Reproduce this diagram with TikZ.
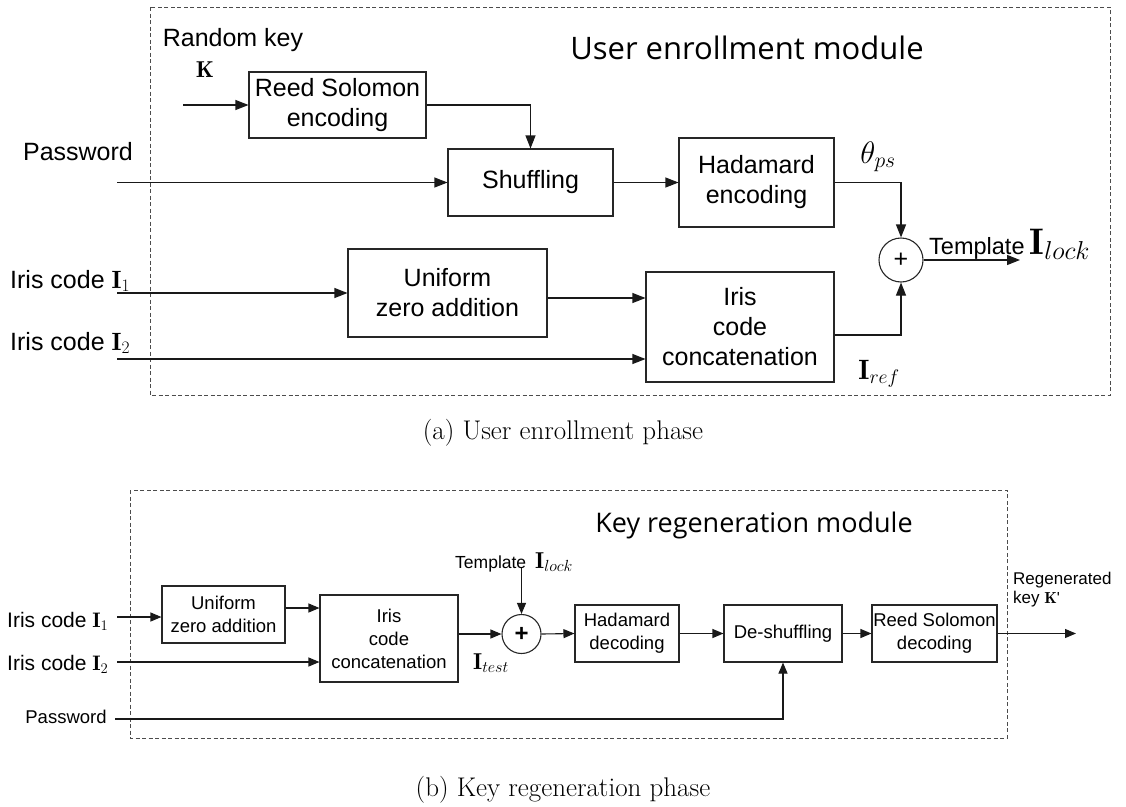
\RequirePackage{fix-cm}
\documentclass[tikz,border=0pt]{standalone}
\usepackage{amsmath,amssymb}
\usepackage{fontspec}
\newfontfamily\arialfont{Liberation Sans}
\newfontfamily\titlefont{Open Sans}
\usepackage{tikz}
\usetikzlibrary{arrows.meta, positioning, calc}
\newcommand{\bigsize}{\arialfont\fontsize{25}{30}\selectfont}
\newcommand{\smallsize}{\arialfont\fontsize{18.5}{23}\selectfont}
\tikzset{
  procbox/.style={
    draw=black!85, line width=1.1pt, align=center,
    inner sep=0pt, fill=white
  },
  topbox/.style={procbox, font=\bigsize},
  botbox/.style={procbox, font=\smallsize},
  flowarrow/.style={
    -{Triangle[length=13pt,width=10pt]}, line width=1.1pt, color=black!90
  },
  smallarrow/.style={
    -{Triangle[length=11pt,width=9pt]}, line width=1.1pt, color=black!90
  },
  xorcircle/.style={
    circle, draw=black!85, line width=1.1pt, inner sep=0pt, fill=white
  },
  modframe/.style={
    draw=black!70, dash pattern=on 4pt off 2.5pt, line width=0.9pt
  },
  modtitle/.style={font=\titlefont\fontsize{31}{36}\selectfont},
  figcaption/.style={font=\fontsize{27}{30}\selectfont},
}

\begin{document}
\begin{tikzpicture}[x=1pt, y=-1pt]
  \useasboundingbox (0,0) rectangle (1126,806);

  % === Enrollment module ===
  \draw[modframe] (150,7) rectangle (1110,395);
  \node[modtitle] (enrtitle) at (747,48) {User enrollment module};

  \node[font=\bigsize] (rkey) at (233,40) {Random key};
  \node[font=\fontsize{23}{26}\selectfont] (rkeysym) at (205,70) {$\mathbf{K}$};
  \coordinate (kin) at (183,105);

  \node[topbox, minimum width=177pt, minimum height=66pt] (rsenc) at (337.5,105)
    {Reed Solomon\\encoding};
  \node[topbox, minimum width=165pt, minimum height=67pt] (shuf) at (530.5,182.5)
    {Shuffling};
  \node[topbox, minimum width=155pt, minimum height=89pt] (hadenc) at (756.5,182.5)
    {Hadamard\\encoding};
  \node[topbox, minimum width=199pt, minimum height=88pt] (uzero) at (447.5,293)
    {Uniform\\zero addition};
  \node[topbox, minimum width=188pt, minimum height=110pt] (irisc) at (740,327)
    {Iris\\code\\concatenation};
  \node[xorcircle, minimum size=44pt, font=\bigsize] (xorenc) at (901,260) {+};
  \coordinate (tout) at (1020,260);

  \node[font=\bigsize] (pwd) at (78,152) {Password};
  \node[font=\bigsize, anchor=base west, inner sep=0pt] (iris1) at (10,288) {Iris code $\mathbf{I}_1$};
  \node[font=\bigsize, anchor=base west, inner sep=0pt] (iris2) at (10,350) {Iris code $\mathbf{I}_2$};
  \coordinate (pwdin) at (117,182.5);
  \coordinate (iris1in) at (117,293);
  \coordinate (iris2in) at (117,359);

  \node[font=\fontsize{31}{34}\selectfont] (theta) at (878,157) {$\theta_{ps}$};
  \node[font=\fontsize{28}{30}\selectfont] (iref) at (879,374) {$\mathbf{I}_{ref}$};
  \node[anchor=base west, font=\arialfont\fontsize{23.5}{26}\selectfont, inner sep=0pt] (tpl) at (929,254)
    {Template\hspace{5pt}{\fontsize{37}{40}\selectfont$\mathbf{I}_{lock}$}};

  \draw[flowarrow] (kin) -- (rsenc.west);
  \draw[flowarrow] (rsenc.east) -| (shuf.north);
  \draw[flowarrow] (pwdin) -- (shuf.west);
  \draw[flowarrow] (shuf.east) -- (hadenc.west);
  \draw[flowarrow] (iris1in) -- (uzero.west);
  \draw[flowarrow] ([yshift=-5pt]uzero.east) -- ([yshift=-5pt]uzero.east -| irisc.west);
  \draw[flowarrow] (iris2in) -- (iris2in -| irisc.west);
  \draw[flowarrow] (hadenc.east) -| (xorenc.north);
  \draw[flowarrow] ([yshift=-8pt]irisc.east) -| (xorenc.south);
  \draw[flowarrow] (xorenc.east) -- (tout);

  \node[figcaption] (capa) at (563,433) {(a) User enrollment phase};

  % === Key regeneration module ===
  \draw[modframe] (130,490) rectangle (1007,738);
  \node[modtitle, font=\titlefont\fontsize{27}{32}\selectfont] (regtitle) at (754,525)
    {Key regeneration module};

  \node[botbox, minimum width=123pt, minimum height=57pt] (uzero2) at (223.5,614.5)
    {Uniform\\zero addition};
  \node[botbox, minimum width=138pt, minimum height=87pt] (irisc2) at (389,638.5)
    {Iris\\code\\concatenation};
  \node[xorcircle, minimum size=39pt, font=\arialfont\bfseries\fontsize{24}{26}\selectfont] (xordec) at (521.5,634) {+};
  \node[botbox, minimum width=104pt, minimum height=57pt] (haddec) at (627,633.5)
    {Hadamard\\decoding};
  \node[botbox, minimum width=118pt, minimum height=57pt] (deshuf) at (783,633.5)
    {De-shuffling};
  \node[botbox, minimum width=125pt, minimum height=57pt] (rsdec) at (934.5,633.5)
    {Reed Solomon\\decoding};
  \coordinate (kout) at (1076,633.5);

  \node[font=\arialfont\fontsize{21}{24}\selectfont, anchor=base west, inner sep=0pt] (iris1b) at (7,627) {Iris code $\mathbf{I}_1$};
  \node[font=\arialfont\fontsize{21}{24}\selectfont, anchor=base west, inner sep=0pt] (iris2b) at (7,670) {Iris code $\mathbf{I}_2$};
  \node[font=\smallsize] (pwdb) at (66,717) {Password};
  \coordinate (iris1inb) at (117,617);
  \coordinate (iris2inb) at (117,662);
  \coordinate (pwdinb) at (115,719);

  \node[font=\arialfont\fontsize{17.5}{20}\selectfont, anchor=base west, inner sep=0pt] (tplb) at (455,568)
    {Template\hspace{9pt}{\fontsize{23}{24}\selectfont$\mathbf{I}_{lock}$}};
  \node[font=\fontsize{23}{24}\selectfont] (itest) at (491,663) {$\mathbf{I}_{test}$};
  \node[anchor=base west, align=left, inner sep=0pt, font=\arialfont\fontsize{17}{19}\selectfont] (regkey) at (1013,603)
    {Regenerated\\key {\fontsize{16}{17}\selectfont$\mathbf{K}$'}};

  \draw[smallarrow] (iris1inb) -- (iris1inb -| uzero2.west);
  \draw[smallarrow] ([yshift=6.5pt]uzero2.east) -- ([yshift=6.5pt]uzero2.east -| irisc2.west);
  \draw[smallarrow] (iris2inb) -- (iris2inb -| irisc2.west);
  \draw[smallarrow] ([yshift=4.5pt]irisc2.east) -- (xordec.west);
  \draw[smallarrow] (xordec.north |- tplb.base) -- (xordec.north);
  \draw[smallarrow] (xordec.east) -- (haddec.west);
  \draw[smallarrow] (haddec.east) -- (deshuf.west);
  \draw[smallarrow] (deshuf.east) -- (rsdec.west);
  \draw[smallarrow] (rsdec.east) -- (kout);
  \draw[smallarrow] (pwdinb) -| (deshuf.south);

  \node[figcaption] (capb) at (563,790) {(b) Key regeneration phase};

\end{tikzpicture}
\end{document}
